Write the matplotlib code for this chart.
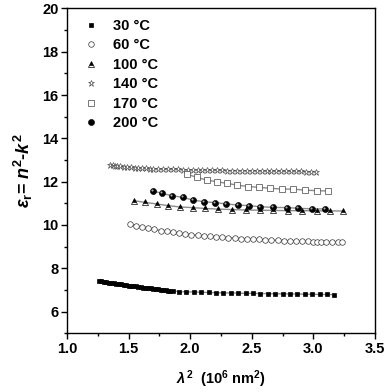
import matplotlib
matplotlib.use("Agg")
import matplotlib.pyplot as plt
from matplotlib.transforms import offset_copy

plt.rcParams['font.family'] = ['Liberation Sans', 'DejaVu Sans']
plt.rcParams['font.weight'] = 'bold'
plt.rcParams['mathtext.fontset'] = 'custom'
plt.rcParams['mathtext.rm'] = 'Liberation Sans:bold'
plt.rcParams['mathtext.it'] = 'Liberation Sans:italic:bold'
plt.rcParams['mathtext.bf'] = 'Liberation Sans:bold'

labels = ['30 °C', '60 °C', '100 °C', '140 °C', '170 °C', '200 °C']

x30 = [1.26, 1.28, 1.30, 1.32, 1.34, 1.36, 1.38, 1.40, 1.42, 1.44, 1.46, 1.48, 1.50, 1.52, 1.54,
       1.56, 1.58, 1.60, 1.62, 1.64, 1.66, 1.68, 1.70, 1.72, 1.74, 1.76, 1.78, 1.80, 1.82, 1.84, 1.86,
       1.91, 1.97, 2.03, 2.09, 2.15, 2.21, 2.27, 2.33, 2.39, 2.45, 2.51, 2.57,
       2.63, 2.69, 2.75, 2.81, 2.87, 2.93, 2.99, 3.05, 3.11, 3.17]
y30 = [7.43, 7.40, 7.38, 7.36, 7.34, 7.32, 7.30, 7.28, 7.27, 7.25, 7.24, 7.22, 7.20, 7.19, 7.17,
       7.16, 7.14, 7.13, 7.11, 7.10, 7.08, 7.07, 7.05, 7.04, 7.02, 7.01, 7.00, 6.98, 6.97, 6.96, 6.95,
       6.92, 6.91, 6.90, 6.89, 6.88, 6.87, 6.86, 6.86, 6.85, 6.84, 6.84, 6.83,
       6.83, 6.82, 6.82, 6.81, 6.81, 6.80, 6.80, 6.79, 6.79, 6.78]

x60 = [1.51, 1.56, 1.61, 1.66, 1.71, 1.76, 1.81, 1.86, 1.91, 1.96, 2.01, 2.06, 2.11,
       2.16, 2.21, 2.26, 2.31, 2.36, 2.41, 2.46, 2.51, 2.56, 2.61, 2.66, 2.71, 2.76,
       2.81, 2.86, 2.91, 2.96, 3.00, 3.03, 3.06, 3.10, 3.15, 3.20, 3.23]
y60 = [10.03, 9.96, 9.90, 9.84, 9.79, 9.74, 9.70, 9.66, 9.62, 9.58, 9.55, 9.52, 9.49,
       9.47, 9.45, 9.43, 9.41, 9.39, 9.37, 9.36, 9.34, 9.33, 9.31, 9.30, 9.29, 9.28,
       9.27, 9.26, 9.25, 9.24, 9.23, 9.23, 9.22, 9.22, 9.21, 9.21, 9.21]

x100 = [1.544, 1.633, 1.728, 1.822, 1.917, 2.020, 2.120, 2.228, 2.337, 2.450, 2.567,
        2.675, 2.797, 2.905, 3.027, 3.135, 3.243]
y100 = [11.12, 11.04, 10.97, 10.89, 10.83, 10.80, 10.76, 10.73, 10.71, 10.69, 10.68,
        10.67, 10.66, 10.66, 10.65, 10.65, 10.64]

x140 = [1.35, 1.37, 1.39, 1.41, 1.43, 1.46, 1.49, 1.52, 1.55, 1.58, 1.61, 1.64, 1.67,
        1.70, 1.74, 1.78, 1.82, 1.86, 1.90, 1.94, 1.98, 2.02, 2.06, 2.10, 2.14, 2.18,
        2.22, 2.26, 2.30, 2.34, 2.38, 2.42, 2.46, 2.50, 2.54, 2.58, 2.62, 2.66, 2.70,
        2.74, 2.78, 2.82, 2.86, 2.90, 2.94, 2.98, 3.02]
y140 = [12.77, 12.75, 12.74, 12.72, 12.71, 12.69, 12.67, 12.66, 12.64, 12.63, 12.62,
        12.61, 12.60, 12.59, 12.58, 12.57, 12.57, 12.56, 12.56, 12.55, 12.55, 12.54,
        12.54, 12.53, 12.53, 12.52, 12.52, 12.52, 12.51, 12.51, 12.51, 12.50, 12.50,
        12.50, 12.49, 12.49, 12.49, 12.48, 12.48, 12.48, 12.47, 12.47, 12.47, 12.47,
        12.46, 12.46, 12.46]

x170 = [1.971, 2.052, 2.134, 2.215, 2.296, 2.383, 2.472, 2.558, 2.648, 2.742, 2.837,
        2.932, 3.027, 3.121]
y170 = [12.35, 12.20, 12.07, 12.00, 11.92, 11.84, 11.77, 11.74, 11.69, 11.66, 11.65,
        11.61, 11.58, 11.57]

x200 = [1.695, 1.768, 1.855, 1.939, 2.025, 2.112, 2.201, 2.291, 2.385, 2.480, 2.567,
        2.675, 2.783, 2.878, 2.986, 3.094]
y200 = [11.58, 11.46, 11.35, 11.27, 11.15, 11.07, 11.03, 10.97, 10.92, 10.89, 10.84,
        10.81, 10.80, 10.77, 10.74, 10.74]

fig = plt.figure(figsize=(3.87, 3.92), dpi=100)
ax = fig.add_axes([0.173, 0.150, 0.796, 0.8286])

fitc = '#8c8c8c'
for xs, ys in [(x30, y30), (x60, y60), (x100, y100), (x140, y140), (x170, y170), (x200, y200)]:
    ax.plot(xs, ys, '-', color=fitc, lw=1.0, zorder=1)

ax.plot(x30, y30, 's', ms=3.3, mfc='black', mec='black', mew=0.5, ls='none', label=labels[0], zorder=3)
ax.plot(x60, y60, 'o', ms=4.0, mfc='white', mec='#333333', mew=0.5, ls='none', label=labels[1], zorder=3)
ax.plot(x100, y100, '^', ms=4.6, fillstyle='top', mfc='black', mfcalt='white', mec='black', mew=0.5,
        ls='none', label=labels[2], zorder=3)
ax.plot(x140, y140, '*', ms=5.0, mfc='white', mec='#444444', mew=0.45, ls='none', label=labels[3], zorder=3)
ax.plot(x170, y170, 's', ms=3.8, mfc='white', mec='#444444', mew=0.5, ls='none', label=labels[4], zorder=3)
ax.plot(x200, y200, 'o', ms=4.4, mfc='black', mec='black', mew=0.4, ls='none', label=labels[5], zorder=3)
hl = offset_copy(ax.transData, fig=fig, x=-1.0, y=1.0, units='dots')
ax.plot(x200, y200, 'o', ms=1.5, mfc='#aaaaaa', mec='none', ls='none', transform=hl, zorder=4)

ax.set_xlim(1.0, 3.5)
ax.set_ylim(5, 20)
ax.set_xticks([1.0, 1.5, 2.0, 2.5, 3.0, 3.5])
ax.set_xticks([1.25, 1.75, 2.25, 2.75, 3.25], minor=True)
ax.set_yticks([6, 8, 10, 12, 14, 16, 18, 20])
ax.set_yticks([5, 7, 9, 11, 13, 15, 17, 19], minor=True)
ax.tick_params(axis='both', which='major', direction='out', length=4, width=1, labelsize=10.5, pad=2)
ax.tick_params(axis='both', which='minor', direction='out', length=2.5, width=1)
for lab in ax.get_xticklabels() + ax.get_yticklabels():
    lab.set_fontweight('bold')
for s in ax.spines.values():
    s.set_linewidth(1.0)

ax.set_xlabel(r'$\lambda^2$  (10$^6$ nm$^2$)', fontsize=10.5, fontweight='bold', labelpad=9)
ax.set_ylabel(r'$ε_\mathrm{r}$= $n^2$-$k^2$', fontsize=13, fontweight='bold', labelpad=5)

leg = ax.legend(loc='upper left', frameon=False, prop={'weight': 'bold', 'size': 10.5},
                handlelength=1.0, handletextpad=1.0, labelspacing=0.38, markerscale=1.0,
                borderaxespad=0.2, bbox_to_anchor=(0.025, 0.995))

fig.savefig('out.png', dpi=100)
